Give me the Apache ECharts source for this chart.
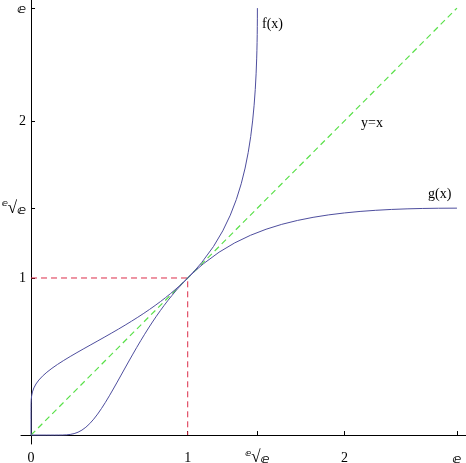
<!DOCTYPE html>
<html>
<head>
<meta charset="utf-8">
<script src="https://cdn.jsdelivr.net/npm/echarts@6/dist/echarts.min.js"></script>
<style>
html,body{margin:0;padding:0;background:#fff;}
#c{width:466px;height:463px;}
</style>
</head>
<body>
<div id="c"></div>
<script>
const E = 2.718281828;
const E1E = 1.444668;

const xTickValues = [1, E1E, 2, E];
const xLabelValues = [0, 1, E1E, 2, E];
const yTickValues = [1, E1E, 2, E];
const yLabelValues = [1, E1E, 2, E];

// f(x): lower branch flat near 0, rising to vertical at x = e^(1/e)
const fPoints = [
  [0,0],[0.1,0],[0.125,0],[0.15,0.000003],[0.175,0.00005],[0.2,0.0003],[0.225,0.0013],
  [0.25,0.0039],[0.275,0.0091],[0.3,0.0181],[0.325,0.0315],[0.35,0.0498],[0.375,0.0731],
  [0.4,0.1012],[0.425,0.1335],[0.45,0.1696],[0.475,0.2086],[0.5,0.25],[0.525,0.2931],
  [0.55,0.3372],[0.575,0.382],[0.6,0.4268],[0.625,0.4714],[0.65,0.5154],[0.675,0.5586],
  [0.7,0.6008],[0.725,0.6417],[0.75,0.6814],[0.775,0.7197],[0.8,0.7566],[0.825,0.792],
  [0.85,0.826],[0.875,0.8585],[0.9,0.8895],[0.925,0.9192],[0.95,0.9474],[0.975,0.9744],[1,1],
  [1.0476,1.05],[1.0905,1.1],[1.1641,1.2],[1.2236,1.3],[1.2717,1.4],[1.3104,1.5],[1.3415,1.6],
  [1.3663,1.7],[1.3862,1.8],[1.4019,1.9],[1.4142,2.0],[1.4238,2.1],[1.431,2.2],[1.4364,2.3],
  [1.4402,2.4],[1.4416,2.45],[1.4427,2.5],[1.4436,2.55],[1.4441,2.6],[1.4445,2.65],[1.4447,2.7183]
];

// g(x): vertical at origin, levelling to e^(1/e) at x = e
const gPoints = [
  [0,0],[0,0.1],[0.000003,0.15],[0.00005,0.175],[0.0003,0.2],[0.0013,0.225],[0.0039,0.25],
  [0.0091,0.275],[0.0181,0.3],[0.0315,0.325],[0.0498,0.35],[0.0731,0.375],[0.1012,0.4],
  [0.1335,0.425],[0.1696,0.45],[0.2086,0.475],[0.25,0.5],[0.2931,0.525],[0.3372,0.55],
  [0.382,0.575],[0.4268,0.6],[0.4714,0.625],[0.5154,0.65],[0.5586,0.675],[0.6008,0.7],
  [0.6417,0.725],[0.6814,0.75],[0.7197,0.775],[0.7566,0.8],[0.792,0.825],[0.826,0.85],
  [0.8585,0.875],[0.8895,0.9],[0.9192,0.925],[0.9474,0.95],[0.9744,0.975],[1,1],
  [1.05,1.0476],[1.1,1.0905],[1.2,1.1641],[1.3,1.2236],[1.4,1.2717],[1.5,1.3104],[1.6,1.3415],
  [1.7,1.3663],[1.8,1.3862],[1.9,1.4019],[2,1.4142],[2.1,1.4238],[2.2,1.431],[2.3,1.4364],
  [2.4,1.4402],[2.5,1.4427],[2.6,1.4441],[2.7183,1.4447]
];

const identityPoints = [[0,0],[E,E]];
const guidePoints = [[0,1],[1,1],[1,0]];

const SERIF = '"Liberation Serif","DejaVu Serif",serif';
const EFONT = '"DejaVu Sans",sans-serif';

const richStyles = {
  s: {fontFamily: EFONT, fontSize: 9, fontWeight: 'bold', verticalAlign: 'top', lineHeight: 17},
  r: {fontFamily: SERIF, fontSize: 17, lineHeight: 17, verticalAlign: 'bottom'},
  e: {fontFamily: EFONT, fontSize: 13, fontWeight: 'bold', lineHeight: 17, verticalAlign: 'bottom'}
};

function fmt(v) {
  if (Math.abs(v - E1E) < 1e-3) return '{s|ⅇ}{r|√}{e|ⅇ}';
  if (Math.abs(v - E) < 1e-3) return '{e|ⅇ}';
  return String(Math.round(v));
}

const chart = echarts.init(document.getElementById('c'), null, {renderer: 'canvas'});
chart.setOption({
  backgroundColor: '#fff',
  animation: false,
  grid: {left: 21, top: 0, width: 445, height: 444, containLabel: false, outerBoundsMode: 'none'},
  xAxis: {
    type: 'value', min: -0.064, max: 2.776,
    axisLine: {show: true, onZero: true, lineStyle: {color: '#000', width: 1}},
    axisTick: {show: true, inside: true, length: 4, customValues: xTickValues, lineStyle: {color: '#000'}},
    axisLabel: {show: true, customValues: xLabelValues, margin: 14, verticalAlign: 'middle',
      color: '#000', fontFamily: SERIF, fontSize: 14, formatter: fmt, rich: richStyles},
    splitLine: {show: false}
  },
  yAxis: {
    type: 'value', min: -0.057, max: 2.77,
    axisLine: {show: true, onZero: true, lineStyle: {color: '#000', width: 1}},
    axisTick: {show: true, inside: true, length: 4, customValues: yTickValues, lineStyle: {color: '#000'}},
    axisLabel: {show: true, customValues: yLabelValues, margin: -5, align: 'right', verticalAlign: 'middle',
      color: '#000', fontFamily: SERIF, fontSize: 14, formatter: fmt, rich: richStyles},
    splitLine: {show: false}
  },
  series: [
    {type: 'line', data: guidePoints, showSymbol: false, silent: true,
     lineStyle: {color: '#dc2c48', width: 1, type: [6, 4]}},
    {type: 'line', data: identityPoints, showSymbol: false, silent: true,
     lineStyle: {color: '#5ae04a', width: 1.2, type: [6, 4]}},
    {type: 'line', data: fPoints, showSymbol: false, silent: true, smooth: false,
     lineStyle: {color: '#4e4e9e', width: 1}},
    {type: 'line', data: gPoints, showSymbol: false, silent: true, smooth: false,
     lineStyle: {color: '#4e4e9e', width: 1}}
  ],
  graphic: [
    {type: 'text', left: 262, top: 17, style: {text: 'f(x)', font: '14px ' + SERIF, fill: '#000'}},
    {type: 'text', left: 361, top: 116, style: {text: 'y=x', font: '14px ' + SERIF, fill: '#000'}},
    {type: 'text', left: 428, top: 187, style: {text: 'g(x)', font: '14px ' + SERIF, fill: '#000'}}
  ]
});
</script>
</body>
</html>
